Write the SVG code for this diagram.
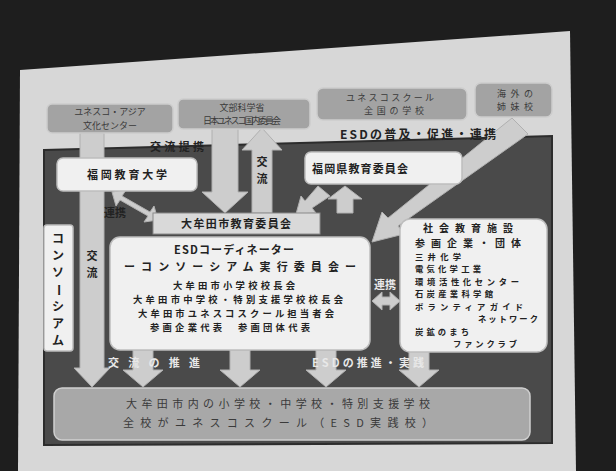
<svg xmlns="http://www.w3.org/2000/svg" width="616" height="471" viewBox="0 0 616 471">
<defs>
<style>
.bg{fill:#1e1e1e}
.slide{fill:#d7d7d7}
.panel{fill:#4a4a4a;stroke:#2c2c2c;stroke-width:2}
.wbox{fill:#f0f0f0;stroke:#bdbdbd;stroke-width:1.5}
.gbox{fill:#a3a3a3;stroke:#cdcdcd;stroke-width:1.5}
.hbox{fill:#d9d9d9;stroke:#8a8a8a;stroke-width:1}
.bbox{fill:#a8a8a8;stroke:#cfcfcf;stroke-width:1.5}
.arr{fill:#cdcdcd;stroke:#b0b0b0;stroke-width:1}
text{font-family:"Noto Sans CJK JP","Noto Sans",sans-serif;fill:#222;font-weight:bold}
.s12{font-size:12px}
.s11{font-size:11px}
.s10{font-size:10px}
.s9{font-size:9px}
.s93{font-size:9.3px}
.s83{font-size:8.3px}
.g{fill:#3a3a3a;font-weight:normal}
.lt{fill:#e8e8e8}
.m{text-anchor:middle}
</style>
</defs>
<rect class="bg" x="0" y="0" width="616" height="471"/>
<polygon class="slide" points="20,70 570,31 576,471 18,471"/>
<polygon class="panel" points="44,150 552,136 552,443 44,445"/>

<g id="connectors">
  <path class="arr" d="M80,133 L104,133 L104,368 L110,368 L92,387 L74,368 L80,368 Z"/>
  <path class="arr" d="M212,128 L238,128 L238,192 L248,192 L225,213 L202,192 L212,192 Z"/>
  <path class="arr" d="M252,213 L272,213 L272,150 L282,150 L262,128 L242,150 L252,150 Z"/>
  <path class="arr" d="M318,186 L330,196 L312,208 L316,213 L296,214 L301,196 L305,201 Z"/>
  <path class="arr" d="M337,213 L353,213 L353,199 L362,199 L345,186 L328,199 L337,199 Z"/>
  <path class="arr" d="M512,118 L528,134 L398,226 L404,234 L372,242 L382,212 L388,218 Z"/>
  <path class="arr" d="M112,192 L126,190 L122,196 L150,212 L154,206 L158,220 L144,222 L148,216 L120,200 L116,206 Z"/>
  <path class="arr" d="M372,301 L382,292 L382,297 L390,297 L390,292 L400,301 L390,310 L390,305 L382,305 L382,310 Z"/>
  <path class="arr" d="M133,350 L153,350 L153,370 L163,370 L143,387 L123,370 L133,370 Z"/>
  <path class="arr" d="M230,350 L250,350 L250,370 L260,370 L240,387 L220,370 L230,370 Z"/>
  <path class="arr" d="M316,350 L336,350 L336,370 L346,370 L326,387 L306,370 L316,370 Z"/>
  <path class="arr" d="M409,351 L429,351 L429,370 L439,370 L419,387 L399,370 L409,370 Z"/>
  <text class="s11" x="150" y="151" textLength="54">交流提携</text>
  <text class="s11" x="262" y="166" text-anchor="middle">交</text>
  <text class="s11" x="262" y="183" text-anchor="middle">流</text>
  <text class="s12" x="340" y="139" textLength="156">ESDの普及・促進・連携</text>
  <text class="s11" x="104" y="217">連携</text>
  <text class="s11 lt" x="374" y="289">連携</text>
  <text class="s11" x="92" y="260" text-anchor="middle">交</text>
  <text class="s11" x="92" y="277" text-anchor="middle">流</text>
  <text class="s11 lt" x="108" y="367" textLength="92">交流の推進</text>
  <text class="s11 lt" x="312" y="367" textLength="112">ESDの推進・実践</text>
</g>

<g id="top1"><rect class="gbox" x="47" y="104" width="126" height="29" rx="5"/>
  <text class="s9 g m" x="110" y="115">ユネスコ・アジア</text>
  <text class="s9 g m" x="110" y="128.5">文化センター</text></g>
<g id="top2"><rect class="gbox" x="178" y="99" width="132" height="30" rx="5"/>
  <text class="s9 g m" x="242" y="110.5">文部科学省</text>
  <text class="s9 g m" x="242" y="124" textLength="78">日本ユネスコ国内委員会</text></g>
<g id="top3"><rect class="gbox" x="317" y="88" width="150" height="32" rx="6"/>
  <text class="s9 g m" x="390" y="100.5" textLength="88">ユネスコスクール</text>
  <text class="s9 g m" x="394" y="114" textLength="60">全国の学校</text></g>
<g id="top4"><rect class="gbox" x="475" y="83" width="77" height="34" rx="6"/>
  <text class="s9 g m" x="515" y="96.5" textLength="36">海外の</text>
  <text class="s9 g m" x="515" y="110" textLength="36">姉妹校</text></g>

<g id="fukuoka-univ"><rect class="wbox" x="57" y="158" width="140" height="33" rx="6"/>
  <text class="s11 m" x="127" y="179" textLength="80">福岡教育大学</text></g>
<g id="pref-board"><rect class="wbox" x="305" y="152" width="157" height="32" rx="6"/>
  <text class="s11 m" x="360" y="173" textLength="96">福岡県教育委員会</text></g>
<g id="city-board"><rect class="hbox" x="153" y="213" width="167" height="21"/>
  <text class="s11 m" x="236" y="228" textLength="110">大牟田市教育委員会</text></g>

<g id="consortium"><rect class="wbox" x="44" y="225" width="29" height="126" rx="3"/>
  <text class="s12 m" x="58" y="243">コ</text>
  <text class="s12 m" x="58" y="260">ン</text>
  <text class="s12 m" x="58" y="277">ソ</text>
  <text class="s12 m" x="58" y="294" transform="rotate(90 58 290)">ー</text>
  <text class="s12 m" x="58" y="311">シ</text>
  <text class="s12 m" x="58" y="328">ア</text>
  <text class="s12 m" x="58" y="345">ム</text></g>

<g id="committee"><rect class="wbox" x="110" y="237" width="260" height="113" rx="10"/>
  <text class="s11 m" x="234" y="254" textLength="120">ESDコーディネーター</text>
  <text class="s11 m" x="240" y="271" textLength="232">ーコンソーシアム実行委員会ー</text>
  <text class="s93 m" x="234" y="289" textLength="122">大牟田市小学校校長会</text>
  <text class="s93 m" x="238" y="303" textLength="210">大牟田市中学校・特別支援学校校長会</text>
  <text class="s93 m" x="236" y="317" textLength="196">大牟田市ユネスコスクール担当者会</text>
  <text class="s93 m" x="230" y="331" textLength="160">参画企業代表　参画団体代表</text></g>

<g id="partners"><rect class="wbox" x="400" y="219" width="147" height="133" rx="10"/>
  <text class="s10" x="423" y="232" textLength="90">社会教育施設</text>
  <text class="s10" x="415" y="246.5" textLength="106">参画企業・団体</text>
  <text class="s83" x="415" y="259.5" textLength="46">三井化学</text>
  <text class="s83" x="415" y="272" textLength="66">電気化学工業</text>
  <text class="s83" x="415" y="284.5" textLength="104">環境活性化センター</text>
  <text class="s83" x="415" y="297" textLength="78">石炭産業科学館</text>
  <text class="s83" x="415" y="309.5" textLength="108">ボランティアガイド</text>
  <text class="s83" x="478" y="322" textLength="60">ネットワーク</text>
  <text class="s83" x="415" y="334.5" textLength="54">炭鉱のまち</text>
  <text class="s83" x="453" y="347" textLength="64">ファンクラブ</text></g>

<g id="schools"><rect class="bbox" x="54" y="388" width="476" height="52" rx="8"/>
  <text class="s11 g" x="126" y="408" textLength="304">大牟田市内の小学校・中学校・特別支援学校</text>
  <text class="s11 g" x="123" y="427" textLength="310">全校がユネスコスクール（ESD実践校）</text></g>
</svg>
